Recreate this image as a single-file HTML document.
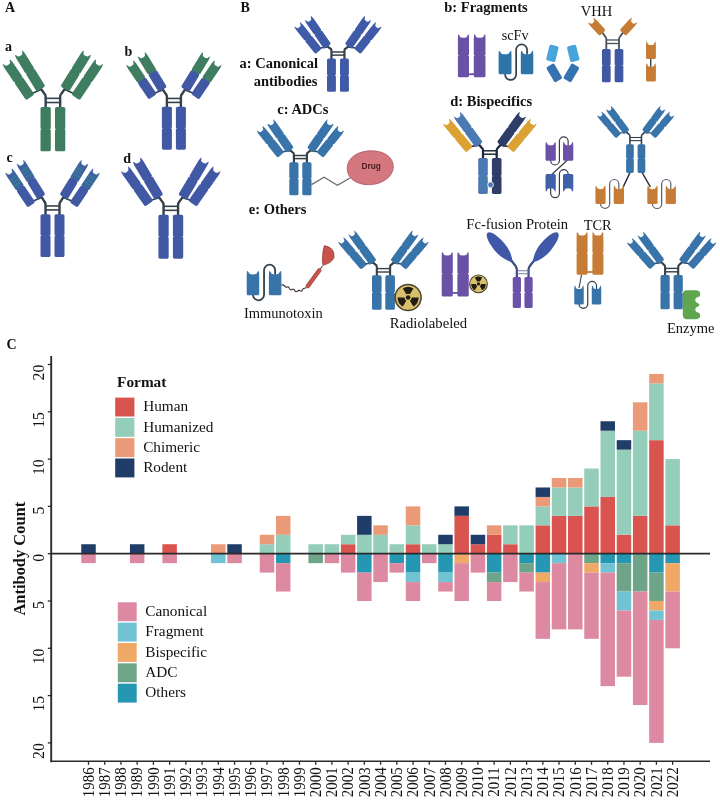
<!DOCTYPE html>
<html lang="en"><head><meta charset="utf-8"><title>Antibody formats</title>
<style>html,body{margin:0;padding:0;background:#fff}body{width:720px;height:800px;overflow:hidden}svg{display:block}text{font-kerning:normal}</style></head>
<body>
<svg width="720" height="800" viewBox="0 0 720 800">
<rect width="720" height="800" fill="#fff"/>
<text x="5" y="12.3" font-family="'Liberation Serif', serif" font-size="14" font-weight="bold" text-anchor="start" fill="#111">A</text>
<text x="5" y="51.2" font-family="'Liberation Serif', serif" font-size="14" font-weight="bold" text-anchor="start" fill="#111">a</text>
<text x="124.5" y="55.8" font-family="'Liberation Serif', serif" font-size="14" font-weight="bold" text-anchor="start" fill="#111">b</text>
<text x="6.5" y="162" font-family="'Liberation Serif', serif" font-size="14" font-weight="bold" text-anchor="start" fill="#111">c</text>
<text x="123.3" y="163.3" font-family="'Liberation Serif', serif" font-size="14" font-weight="bold" text-anchor="start" fill="#111">d</text>
<g><path d="M45.65 108 V96.49 Q45.65 94.99 44.29 93.54 L39.76 87.07" fill="none" stroke="#34404a" stroke-width="2.4" stroke-linecap="round" stroke-linejoin="round"/><path d="M30.31 94.34 L41.12 89.51" stroke="#34404a" stroke-width="1.68" fill="none"/><path d="M60.15 108 V96.49 Q60.15 94.99 61.51 93.54 L66.04 87.07" fill="none" stroke="#34404a" stroke-width="2.4" stroke-linecap="round" stroke-linejoin="round"/><path d="M75.49 94.34 L64.68 89.51" stroke="#34404a" stroke-width="1.68" fill="none"/><line x1="45.65" x2="60.15" y1="98.36" y2="98.36" stroke="#34404a" stroke-width="1.6"/><line x1="45.65" x2="60.15" y1="102.51" y2="102.51" stroke="#34404a" stroke-width="1.6"/><rect x="40.5" y="107" width="10.3" height="44.3" rx="1.6" fill="#3f7d61"/><path d="M40.2 128.15 L41.5 129.15 L40.2 130.15Z M51.1 128.15 L49.8 129.15 L51.1 130.15Z" fill="#fff"/><rect x="55" y="107" width="10.3" height="44.3" rx="1.6" fill="#3f7d61"/><path d="M54.7 128.15 L56 129.15 L54.7 130.15Z M65.6 128.15 L64.3 129.15 L65.6 130.15Z" fill="#fff"/><g transform="translate(41.12 89.01) rotate(-31.77)"><path d="M-3.25 0 H3.25 Q5.05 0 5.05 -1.8 V-39 L4.45 -42.9 L3.2 -41.3 A3.2 2.24 0 0 1 -3.2 -41.3 L-4.45 -42.9 L-5.05 -39 V-1.8 Q-5.05 0 -3.25 0Z" fill="#3f7d61"/><path d="M-5.35 -22 L-4.05 -21 L-5.35 -20Z M5.35 -22 L4.05 -21 L5.35 -20Z" fill="#fff"/></g><g transform="translate(64.68 89.01) rotate(31.77)"><path d="M-3.25 0 H3.25 Q5.05 0 5.05 -1.8 V-39 L4.45 -42.9 L3.2 -41.3 A3.2 2.24 0 0 1 -3.2 -41.3 L-4.45 -42.9 L-5.05 -39 V-1.8 Q-5.05 0 -3.25 0Z" fill="#3f7d61"/><path d="M-5.35 -22 L-4.05 -21 L-5.35 -20Z M5.35 -22 L4.05 -21 L5.35 -20Z" fill="#fff"/></g><g transform="translate(30.31 97.34) rotate(-34.03)"><path d="M-3.25 0 H3.25 Q5.05 0 5.05 -1.8 V-39.19 L4.45 -43.09 L3.2 -41.49 A3.2 2.24 0 0 1 -3.2 -41.49 L-4.45 -43.09 L-5.05 -39.19 V-1.8 Q-5.05 0 -3.25 0Z" fill="#3f7d61"/><path d="M-5.35 -22.09 L-4.05 -21.09 L-5.35 -20.09Z M5.35 -22.09 L4.05 -21.09 L5.35 -20.09Z" fill="#fff"/></g><g transform="translate(75.49 97.34) rotate(34.03)"><path d="M-3.25 0 H3.25 Q5.05 0 5.05 -1.8 V-39.19 L4.45 -43.09 L3.2 -41.49 A3.2 2.24 0 0 1 -3.2 -41.49 L-4.45 -43.09 L-5.05 -39.19 V-1.8 Q-5.05 0 -3.25 0Z" fill="#3f7d61"/><path d="M-5.35 -22.09 L-4.05 -21.09 L-5.35 -20.09Z M5.35 -22.09 L4.05 -21.09 L5.35 -20.09Z" fill="#fff"/></g></g>
<g><path d="M166.9 107.7 V96.7 Q166.9 95.2 165.67 93.84 L161.59 87.66" fill="none" stroke="#34404a" stroke-width="2.4" stroke-linecap="round" stroke-linejoin="round"/><path d="M152.81 93.74 L162.81 90.01" stroke="#34404a" stroke-width="1.68" fill="none"/><path d="M180.9 107.7 V96.7 Q180.9 95.2 182.13 93.84 L186.21 87.66" fill="none" stroke="#34404a" stroke-width="2.4" stroke-linecap="round" stroke-linejoin="round"/><path d="M194.99 93.74 L184.99 90.01" stroke="#34404a" stroke-width="1.68" fill="none"/><line x1="166.9" x2="180.9" y1="98.45" y2="98.45" stroke="#34404a" stroke-width="1.6"/><line x1="166.9" x2="180.9" y1="102.41" y2="102.41" stroke="#34404a" stroke-width="1.6"/><rect x="161.9" y="106.7" width="10" height="43" rx="1.6" fill="#4159a5"/><path d="M161.6 127.2 L162.9 128.2 L161.6 129.2Z M172.2 127.2 L170.9 128.2 L172.2 129.2Z" fill="#fff"/><rect x="175.9" y="106.7" width="10" height="43" rx="1.6" fill="#4159a5"/><path d="M175.6 127.2 L176.9 128.2 L175.6 129.2Z M186.2 127.2 L184.9 128.2 L186.2 129.2Z" fill="#fff"/><g transform="translate(162.81 89.51) rotate(-31.46)"><path transform="translate(0 -18.73)" d="M-3.1 0 H3.1 Q4.9 0 4.9 -1.8 V-18.73 L4.3 -22.63 L3.1 -21.03 A3.1 2.24 0 0 1 -3.1 -21.03 L-4.3 -22.63 L-4.9 -18.73 V-1.8 Q-4.9 0 -3.1 0Z" fill="#3f7d61"/><rect x="-4.9" y="-20.23" width="9.8" height="20.23" rx="1.8" fill="#4159a5"/><path d="M-5.2 -21.23 L-3.9 -20.23 L-5.2 -19.23Z M5.2 -21.23 L3.9 -20.23 L5.2 -19.23Z" fill="#fff"/></g><g transform="translate(184.99 89.51) rotate(31.46)"><path transform="translate(0 -18.73)" d="M-3.1 0 H3.1 Q4.9 0 4.9 -1.8 V-18.73 L4.3 -22.63 L3.1 -21.03 A3.1 2.24 0 0 1 -3.1 -21.03 L-4.3 -22.63 L-4.9 -18.73 V-1.8 Q-4.9 0 -3.1 0Z" fill="#3f7d61"/><rect x="-4.9" y="-20.23" width="9.8" height="20.23" rx="1.8" fill="#4159a5"/><path d="M-5.2 -21.23 L-3.9 -20.23 L-5.2 -19.23Z M5.2 -21.23 L3.9 -20.23 L5.2 -19.23Z" fill="#fff"/></g><g transform="translate(152.81 96.74) rotate(-34.19)"><path transform="translate(0 -18.66)" d="M-3.1 0 H3.1 Q4.9 0 4.9 -1.8 V-18.66 L4.3 -22.56 L3.1 -20.96 A3.1 2.24 0 0 1 -3.1 -20.96 L-4.3 -22.56 L-4.9 -18.66 V-1.8 Q-4.9 0 -3.1 0Z" fill="#3f7d61"/><rect x="-4.9" y="-20.16" width="9.8" height="20.16" rx="1.8" fill="#4159a5"/><path d="M-5.2 -21.16 L-3.9 -20.16 L-5.2 -19.16Z M5.2 -21.16 L3.9 -20.16 L5.2 -19.16Z" fill="#fff"/></g><g transform="translate(194.99 96.74) rotate(34.19)"><path transform="translate(0 -18.66)" d="M-3.1 0 H3.1 Q4.9 0 4.9 -1.8 V-18.66 L4.3 -22.56 L3.1 -20.96 A3.1 2.24 0 0 1 -3.1 -20.96 L-4.3 -22.56 L-4.9 -18.66 V-1.8 Q-4.9 0 -3.1 0Z" fill="#3f7d61"/><rect x="-4.9" y="-20.16" width="9.8" height="20.16" rx="1.8" fill="#4159a5"/><path d="M-5.2 -21.16 L-3.9 -20.16 L-5.2 -19.16Z M5.2 -21.16 L3.9 -20.16 L5.2 -19.16Z" fill="#fff"/></g></g>
<g><path d="M45.5 215.2 V204.2 Q45.5 202.7 44.3 201.34 L40.32 195.16" fill="none" stroke="#34404a" stroke-width="2.4" stroke-linecap="round" stroke-linejoin="round"/><path d="M31.51 201.84 L41.51 197.51" stroke="#34404a" stroke-width="1.68" fill="none"/><path d="M59.5 215.2 V204.2 Q59.5 202.7 60.7 201.34 L64.68 195.16" fill="none" stroke="#34404a" stroke-width="2.4" stroke-linecap="round" stroke-linejoin="round"/><path d="M73.49 201.84 L63.49 197.51" stroke="#34404a" stroke-width="1.68" fill="none"/><line x1="45.5" x2="59.5" y1="205.95" y2="205.95" stroke="#34404a" stroke-width="1.6"/><line x1="45.5" x2="59.5" y1="209.91" y2="209.91" stroke="#34404a" stroke-width="1.6"/><rect x="40.5" y="214.2" width="10" height="42.8" rx="1.6" fill="#4159a5"/><path d="M40.2 234.6 L41.5 235.6 L40.2 236.6Z M50.8 234.6 L49.5 235.6 L50.8 236.6Z" fill="#fff"/><rect x="54.5" y="214.2" width="10" height="42.8" rx="1.6" fill="#4159a5"/><path d="M54.2 234.6 L55.5 235.6 L54.2 236.6Z M64.8 234.6 L63.5 235.6 L64.8 236.6Z" fill="#fff"/><g transform="translate(41.51 197.01) rotate(-31.33)"><path transform="translate(0 -18.7)" d="M-2.85 0 H2.85 Q4.65 0 4.65 -1.8 V-18.7 L4.05 -22.6 L2.92 -21 A2.92 2.24 0 0 1 -2.92 -21 L-4.05 -22.6 L-4.65 -18.7 V-1.8 Q-4.65 0 -2.85 0Z" fill="#3d63a0"/><rect x="-4.65" y="-20.2" width="9.3" height="20.2" rx="1.8" fill="#4159a5"/><path d="M-4.95 -21.2 L-3.65 -20.2 L-4.95 -19.2Z M4.95 -21.2 L3.65 -20.2 L4.95 -19.2Z" fill="#fff"/><rect x="-4.05" y="-25.86" width="8.1" height="1.3" fill="#347f92"/><rect x="-4.05" y="-29.5" width="8.1" height="1.3" fill="#347f92"/><rect x="-4.05" y="-33.13" width="8.1" height="1.3" fill="#347f92"/></g><g transform="translate(63.49 197.01) rotate(31.33)"><path transform="translate(0 -18.7)" d="M-2.85 0 H2.85 Q4.65 0 4.65 -1.8 V-18.7 L4.05 -22.6 L2.92 -21 A2.92 2.24 0 0 1 -2.92 -21 L-4.05 -22.6 L-4.65 -18.7 V-1.8 Q-4.65 0 -2.85 0Z" fill="#3d63a0"/><rect x="-4.65" y="-20.2" width="9.3" height="20.2" rx="1.8" fill="#4159a5"/><path d="M-4.95 -21.2 L-3.65 -20.2 L-4.95 -19.2Z M4.95 -21.2 L3.65 -20.2 L4.95 -19.2Z" fill="#fff"/><rect x="-4.05" y="-25.86" width="8.1" height="1.3" fill="#347f92"/><rect x="-4.05" y="-29.5" width="8.1" height="1.3" fill="#347f92"/><rect x="-4.05" y="-33.13" width="8.1" height="1.3" fill="#347f92"/></g><g transform="translate(31.51 204.84) rotate(-33.91)"><path transform="translate(0 -18.72)" d="M-2.85 0 H2.85 Q4.65 0 4.65 -1.8 V-18.72 L4.05 -22.62 L2.92 -21.02 A2.92 2.24 0 0 1 -2.92 -21.02 L-4.05 -22.62 L-4.65 -18.72 V-1.8 Q-4.65 0 -2.85 0Z" fill="#3d63a0"/><rect x="-4.65" y="-20.22" width="9.3" height="20.22" rx="1.8" fill="#4159a5"/><path d="M-4.95 -21.22 L-3.65 -20.22 L-4.95 -19.22Z M4.95 -21.22 L3.65 -20.22 L4.95 -19.22Z" fill="#fff"/><rect x="-4.05" y="-25.88" width="8.1" height="1.3" fill="#347f92"/><rect x="-4.05" y="-29.52" width="8.1" height="1.3" fill="#347f92"/><rect x="-4.05" y="-33.16" width="8.1" height="1.3" fill="#347f92"/></g><g transform="translate(73.49 204.84) rotate(33.91)"><path transform="translate(0 -18.72)" d="M-2.85 0 H2.85 Q4.65 0 4.65 -1.8 V-18.72 L4.05 -22.62 L2.92 -21.02 A2.92 2.24 0 0 1 -2.92 -21.02 L-4.05 -22.62 L-4.65 -18.72 V-1.8 Q-4.65 0 -2.85 0Z" fill="#3d63a0"/><rect x="-4.65" y="-20.22" width="9.3" height="20.22" rx="1.8" fill="#4159a5"/><path d="M-4.95 -21.22 L-3.65 -20.22 L-4.95 -19.22Z M4.95 -21.22 L3.65 -20.22 L4.95 -19.22Z" fill="#fff"/><rect x="-4.05" y="-25.88" width="8.1" height="1.3" fill="#347f92"/><rect x="-4.05" y="-29.52" width="8.1" height="1.3" fill="#347f92"/><rect x="-4.05" y="-33.16" width="8.1" height="1.3" fill="#347f92"/></g></g>
<g><path d="M163.55 215.7 V204.51 Q163.55 203.01 162.19 201.62 L157.64 195.33" fill="none" stroke="#34404a" stroke-width="2.4" stroke-linecap="round" stroke-linejoin="round"/><path d="M149.22 200.74 L159.01 197.72" stroke="#34404a" stroke-width="1.68" fill="none"/><path d="M178.05 215.7 V204.51 Q178.05 203.01 179.41 201.62 L183.96 195.33" fill="none" stroke="#34404a" stroke-width="2.4" stroke-linecap="round" stroke-linejoin="round"/><path d="M192.38 200.74 L182.59 197.72" stroke="#34404a" stroke-width="1.68" fill="none"/><line x1="163.55" x2="178.05" y1="206.31" y2="206.31" stroke="#34404a" stroke-width="1.6"/><line x1="163.55" x2="178.05" y1="210.34" y2="210.34" stroke="#34404a" stroke-width="1.6"/><rect x="158.4" y="214.7" width="10.3" height="44" rx="1.6" fill="#4159a5"/><path d="M158.1 235.7 L159.4 236.7 L158.1 237.7Z M169 235.7 L167.7 236.7 L169 237.7Z" fill="#fff"/><rect x="172.9" y="214.7" width="10.3" height="44" rx="1.6" fill="#4159a5"/><path d="M172.6 235.7 L173.9 236.7 L172.6 237.7Z M183.5 235.7 L182.2 236.7 L183.5 237.7Z" fill="#fff"/><g transform="translate(159.01 197.22) rotate(-30.73)"><path d="M-3.25 0 H3.25 Q5.05 0 5.05 -1.8 V-40.06 L4.45 -43.96 L3.2 -42.36 A3.2 2.24 0 0 1 -3.2 -42.36 L-4.45 -43.96 L-5.05 -40.06 V-1.8 Q-5.05 0 -3.25 0Z" fill="#4159a5"/><path d="M-5.35 -22.53 L-4.05 -21.53 L-5.35 -20.53Z M5.35 -22.53 L4.05 -21.53 L5.35 -20.53Z" fill="#fff"/></g><g transform="translate(182.59 197.22) rotate(30.73)"><path d="M-3.25 0 H3.25 Q5.05 0 5.05 -1.8 V-40.06 L4.45 -43.96 L3.2 -42.36 A3.2 2.24 0 0 1 -3.2 -42.36 L-4.45 -43.96 L-5.05 -40.06 V-1.8 Q-5.05 0 -3.25 0Z" fill="#4159a5"/><path d="M-5.35 -22.53 L-4.05 -21.53 L-5.35 -20.53Z M5.35 -22.53 L4.05 -21.53 L5.35 -20.53Z" fill="#fff"/></g><g transform="translate(149.22 203.74) rotate(-35.2)"><path d="M-3.25 0 H3.25 Q5.05 0 5.05 -1.8 V-38.91 L4.45 -42.81 L3.2 -41.21 A3.2 2.24 0 0 1 -3.2 -41.21 L-4.45 -42.81 L-5.05 -38.91 V-1.8 Q-5.05 0 -3.25 0Z" fill="#4159a5"/><path d="M-5.35 -21.96 L-4.05 -20.96 L-5.35 -19.96Z M5.35 -21.96 L4.05 -20.96 L5.35 -19.96Z" fill="#fff"/></g><g transform="translate(192.38 203.74) rotate(35.2)"><path d="M-3.25 0 H3.25 Q5.05 0 5.05 -1.8 V-38.91 L4.45 -42.81 L3.2 -41.21 A3.2 2.24 0 0 1 -3.2 -41.21 L-4.45 -42.81 L-5.05 -38.91 V-1.8 Q-5.05 0 -3.25 0Z" fill="#4159a5"/><path d="M-5.35 -21.96 L-4.05 -20.96 L-5.35 -19.96Z M5.35 -21.96 L4.05 -20.96 L5.35 -19.96Z" fill="#fff"/></g></g>
<text x="240.5" y="12.3" font-family="'Liberation Serif', serif" font-size="14" font-weight="bold" text-anchor="start" fill="#111">B</text>
<text x="239.5" y="68.3" font-family="'Liberation Serif', serif" font-size="14.5" font-weight="bold" text-anchor="start" fill="#111">a: Canonical</text>
<text x="253.7" y="86.3" font-family="'Liberation Serif', serif" font-size="14.5" font-weight="bold" text-anchor="start" fill="#111">antibodies</text>
<g><path d="M331.45 59.5 V50.5 Q331.45 49 330.31 48.6 L326.5 45.59" fill="none" stroke="#34404a" stroke-width="2.2" stroke-linecap="round" stroke-linejoin="round"/><path d="M318.62 48.3 L327.64 46.99" stroke="#34404a" stroke-width="1.54" fill="none"/><path d="M344.45 59.5 V50.5 Q344.45 49 345.59 48.6 L349.4 45.59" fill="none" stroke="#34404a" stroke-width="2.2" stroke-linecap="round" stroke-linejoin="round"/><path d="M357.28 48.3 L348.26 46.99" stroke="#34404a" stroke-width="1.54" fill="none"/><line x1="331.45" x2="344.45" y1="52" y2="52" stroke="#34404a" stroke-width="1.5"/><line x1="331.45" x2="344.45" y1="55.1" y2="55.1" stroke="#34404a" stroke-width="1.5"/><rect x="327" y="58.5" width="8.9" height="33.3" rx="1.6" fill="#3f5ba8"/><path d="M326.7 74.15 L328 75.15 L326.7 76.15Z M336.2 74.15 L334.9 75.15 L336.2 76.15Z" fill="#fff"/><rect x="340" y="58.5" width="8.9" height="33.3" rx="1.6" fill="#3f5ba8"/><path d="M339.7 74.15 L341 75.15 L339.7 76.15Z M349.2 74.15 L347.9 75.15 L349.2 76.15Z" fill="#fff"/><g transform="translate(327.64 46.49) rotate(-34.74)"><path d="M-2.53 0 H2.53 Q4.33 0 4.33 -1.8 V-30.94 L3.73 -34.84 L2.68 -33.24 A2.68 2.24 0 0 1 -2.68 -33.24 L-3.73 -34.84 L-4.33 -30.94 V-1.8 Q-4.33 0 -2.53 0Z" fill="#3f5ba8"/><path d="M-4.63 -17.97 L-3.33 -16.97 L-4.63 -15.97Z M4.63 -17.97 L3.33 -16.97 L4.63 -15.97Z" fill="#fff"/></g><g transform="translate(348.26 46.49) rotate(34.74)"><path d="M-2.53 0 H2.53 Q4.33 0 4.33 -1.8 V-30.94 L3.73 -34.84 L2.68 -33.24 A2.68 2.24 0 0 1 -2.68 -33.24 L-3.73 -34.84 L-4.33 -30.94 V-1.8 Q-4.33 0 -2.53 0Z" fill="#3f5ba8"/><path d="M-4.63 -17.97 L-3.33 -16.97 L-4.63 -15.97Z M4.63 -17.97 L3.33 -16.97 L4.63 -15.97Z" fill="#fff"/></g><g transform="translate(318.62 51.3) rotate(-38.57)"><path d="M-2.53 0 H2.53 Q4.33 0 4.33 -1.8 V-30.6 L3.73 -34.5 L2.68 -32.9 A2.68 2.24 0 0 1 -2.68 -32.9 L-3.73 -34.5 L-4.33 -30.6 V-1.8 Q-4.33 0 -2.53 0Z" fill="#3f5ba8"/><path d="M-4.63 -17.8 L-3.33 -16.8 L-4.63 -15.8Z M4.63 -17.8 L3.33 -16.8 L4.63 -15.8Z" fill="#fff"/></g><g transform="translate(357.28 51.3) rotate(38.57)"><path d="M-2.53 0 H2.53 Q4.33 0 4.33 -1.8 V-30.6 L3.73 -34.5 L2.68 -32.9 A2.68 2.24 0 0 1 -2.68 -32.9 L-3.73 -34.5 L-4.33 -30.6 V-1.8 Q-4.33 0 -2.53 0Z" fill="#3f5ba8"/><path d="M-4.63 -17.8 L-3.33 -16.8 L-4.63 -15.8Z M4.63 -17.8 L3.33 -16.8 L4.63 -15.8Z" fill="#fff"/></g></g>
<text x="277.3" y="113.8" font-family="'Liberation Serif', serif" font-size="14.5" font-weight="bold" text-anchor="start" fill="#111">c: ADCs</text>
<g><path d="M293.9 163.3 V154.5 Q293.9 153 292.8 152.54 L289.14 149.33" fill="none" stroke="#34404a" stroke-width="2.2" stroke-linecap="round" stroke-linejoin="round"/><path d="M280.92 152 L290.24 150.79" stroke="#34404a" stroke-width="1.54" fill="none"/><path d="M306.9 163.3 V154.5 Q306.9 153 308 152.54 L311.66 149.33" fill="none" stroke="#34404a" stroke-width="2.2" stroke-linecap="round" stroke-linejoin="round"/><path d="M319.88 152 L310.56 150.79" stroke="#34404a" stroke-width="1.54" fill="none"/><line x1="293.9" x2="306.9" y1="155.5" y2="155.5" stroke="#34404a" stroke-width="1.5"/><line x1="293.9" x2="306.9" y1="158.6" y2="158.6" stroke="#34404a" stroke-width="1.5"/><rect x="289.3" y="162.3" width="9.2" height="33" rx="1.6" fill="#3873a9"/><path d="M289 177.8 L290.3 178.8 L289 179.8Z M298.8 177.8 L297.5 178.8 L298.8 179.8Z" fill="#fff"/><rect x="302.3" y="162.3" width="9.2" height="33" rx="1.6" fill="#3873a9"/><path d="M302 177.8 L303.3 178.8 L302 179.8Z M311.8 177.8 L310.5 178.8 L311.8 179.8Z" fill="#fff"/><g transform="translate(290.24 150.29) rotate(-34.68)"><path d="M-2.62 0 H2.62 Q4.42 0 4.42 -1.8 V-31.16 L3.82 -35.06 L2.75 -33.46 A2.75 2.24 0 0 1 -2.75 -33.46 L-3.82 -35.06 L-4.42 -31.16 V-1.8 Q-4.42 0 -2.62 0Z" fill="#3873a9"/><path d="M-4.72 -18.08 L-3.42 -17.08 L-4.72 -16.08Z M4.72 -18.08 L3.42 -17.08 L4.72 -16.08Z" fill="#fff"/></g><g transform="translate(310.56 150.29) rotate(34.68)"><path d="M-2.62 0 H2.62 Q4.42 0 4.42 -1.8 V-31.16 L3.82 -35.06 L2.75 -33.46 A2.75 2.24 0 0 1 -2.75 -33.46 L-3.82 -35.06 L-4.42 -31.16 V-1.8 Q-4.42 0 -2.62 0Z" fill="#3873a9"/><path d="M-4.72 -18.08 L-3.42 -17.08 L-4.72 -16.08Z M4.72 -18.08 L3.42 -17.08 L4.72 -16.08Z" fill="#fff"/></g><g transform="translate(280.92 155) rotate(-38.58)"><path d="M-2.62 0 H2.62 Q4.42 0 4.42 -1.8 V-30.35 L3.82 -34.25 L2.75 -32.65 A2.75 2.24 0 0 1 -2.75 -32.65 L-3.82 -34.25 L-4.42 -30.35 V-1.8 Q-4.42 0 -2.62 0Z" fill="#3873a9"/><path d="M-4.72 -17.68 L-3.42 -16.68 L-4.72 -15.68Z M4.72 -17.68 L3.42 -16.68 L4.72 -15.68Z" fill="#fff"/></g><g transform="translate(319.88 155) rotate(38.58)"><path d="M-2.62 0 H2.62 Q4.42 0 4.42 -1.8 V-30.35 L3.82 -34.25 L2.75 -32.65 A2.75 2.24 0 0 1 -2.75 -32.65 L-3.82 -34.25 L-4.42 -30.35 V-1.8 Q-4.42 0 -2.62 0Z" fill="#3873a9"/><path d="M-4.72 -17.68 L-3.42 -16.68 L-4.72 -15.68Z M4.72 -17.68 L3.42 -16.68 L4.72 -15.68Z" fill="#fff"/></g></g>
<path d="M311.5 184.6 L324.1 177.3 L337.4 185.3 L350.5 177.8" fill="none" stroke="#6a6a6a" stroke-width="1.25"/>
<path d="M347.2 168.5 C347.2 158 357.5 150.8 371.5 150.8 C384.5 150.8 393.3 157.5 393.3 166.5 C393.3 176.5 382.5 184.7 368.5 184.7 C356 184.7 347.2 178 347.2 168.5Z" fill="#d5777e" stroke="#a9565e" stroke-width="0.8"/>
<text x="371.2" y="169.3" font-family="'Liberation Sans', sans-serif" font-size="8.3" font-weight="bold" text-anchor="middle" fill="#4a2025">Drug</text>
<text x="444.3" y="11.8" font-family="'Liberation Serif', serif" font-size="14.5" font-weight="bold" text-anchor="start" fill="#111">b: Fragments</text>
<path transform="translate(463.45 77.2)" d="M-4.05 0 H4.05 Q5.55 0 5.55 -1.5 V-39.2 L5.25 -43.2 L3.78 -41.55 A3.78 2.08 0 0 1 -3.78 -41.55 L-5.25 -43.2 L-5.55 -39.2 V-1.5 Q-5.55 0 -4.05 0Z" fill="#6a51a6"/><path d="M457.6 54.47 L458.9 55.47 L457.6 56.47Z M469.3 54.47 L468 55.47 L469.3 56.47Z" fill="#fff"/><path transform="translate(479.65 77.2)" d="M-4.35 0 H4.35 Q5.85 0 5.85 -1.5 V-39.2 L5.55 -43.2 L4 -41.55 A4 2.08 0 0 1 -4 -41.55 L-5.55 -43.2 L-5.85 -39.2 V-1.5 Q-5.85 0 -4.35 0Z" fill="#6a51a6"/><path d="M473.5 54.47 L474.8 55.47 L473.5 56.47Z M485.8 54.47 L484.5 55.47 L485.8 56.47Z" fill="#fff"/><rect x="468" y="73.3" width="6.8" height="1.8" fill="#6a51a6"/>
<text x="501.7" y="39.6" font-family="'Liberation Serif', serif" font-size="14.2" text-anchor="start" fill="#111">scFv</text>
<path d="M505.05 71.3 V74.35 A5.55 5.55 0 0 0 516.15 74.35 V49.85 A5.45 5.45 0 0 1 527.05 49.85 V54.6" fill="none" stroke="#34404a" stroke-width="1.7"/><path transform="translate(505.05 74.3)" d="M-4.95 0 H4.95 Q6.45 0 6.45 -1.5 V-19.7 L6.15 -23.7 L4.43 -22.05 A4.43 2.08 0 0 1 -4.43 -22.05 L-6.15 -23.7 L-6.45 -19.7 V-1.5 Q-6.45 0 -4.95 0Z" fill="#2f74a8"/><path transform="translate(527.05 74.3)" d="M-4.75 0 H4.75 Q6.25 0 6.25 -1.5 V-19.7 L5.95 -23.7 L4.28 -22.05 A4.28 2.08 0 0 1 -4.28 -22.05 L-5.95 -23.7 L-6.25 -19.7 V-1.5 Q-6.25 0 -4.75 0Z" fill="#2f74a8"/>
<rect x="547.7" y="45.25" width="9.4" height="16.3" rx="1.8" fill="#47a4dc" transform="rotate(14 552.4 53.4)"/>
<rect x="568.5" y="45.25" width="9.4" height="16.3" rx="1.8" fill="#47a4dc" transform="rotate(-14 573.2 53.4)"/>
<rect x="549.8" y="64.1" width="9" height="17.6" rx="1.8" fill="#3572b0" transform="rotate(-30.5 554.3 72.9)"/>
<rect x="566.8" y="64.1" width="9" height="17.6" rx="1.8" fill="#3572b0" transform="rotate(30.5 571.3 72.9)"/>
<text x="580.7" y="16" font-family="'Liberation Serif', serif" font-size="14.5" text-anchor="start" fill="#111">VHH</text>
<g><path d="M606.3 50 V39.1 Q606.3 37.6 605.19 36.55 L601.5 31.39" fill="none" stroke="#4a5058" stroke-width="1.8" stroke-linecap="round" stroke-linejoin="round"/><path d="M619 50 V39.1 Q619 37.6 620.11 36.55 L623.8 31.39" fill="none" stroke="#4a5058" stroke-width="1.8" stroke-linecap="round" stroke-linejoin="round"/><line x1="606.3" x2="619" y1="40" y2="40" stroke="#4a5058" stroke-width="1.3"/><line x1="606.3" x2="619" y1="43.5" y2="43.5" stroke="#4a5058" stroke-width="1.3"/><rect x="601.95" y="49" width="8.7" height="33.25" rx="1.6" fill="#4159a5"/><path d="M601.65 64.62 L602.95 65.62 L601.65 66.62Z M610.95 64.62 L609.65 65.62 L610.95 66.62Z" fill="#fff"/><rect x="614.65" y="49" width="8.7" height="33.25" rx="1.6" fill="#4159a5"/><path d="M614.35 64.62 L615.65 65.62 L614.35 66.62Z M623.65 64.62 L622.35 65.62 L623.65 66.62Z" fill="#fff"/><g transform="translate(602.61 32.94) rotate(-42.62)"><path d="M-2.5 0 H2.5 Q4.3 0 4.3 -1.8 V-13.77 L3.7 -17.67 L2.66 -16.07 A2.66 2.24 0 0 1 -2.66 -16.07 L-3.7 -17.67 L-4.3 -13.77 V-1.8 Q-4.3 0 -2.5 0Z" fill="#c67c36"/></g><g transform="translate(622.69 32.94) rotate(42.62)"><path d="M-2.5 0 H2.5 Q4.3 0 4.3 -1.8 V-13.77 L3.7 -17.67 L2.66 -16.07 A2.66 2.24 0 0 1 -2.66 -16.07 L-3.7 -17.67 L-4.3 -13.77 V-1.8 Q-4.3 0 -2.5 0Z" fill="#c67c36"/></g></g>
<line x1="650.7" x2="650.7" y1="57" y2="67" stroke="#34404a" stroke-width="1.4"/>
<path transform="translate(650.95 59)" d="M-3.45 0 H3.45 Q4.95 0 4.95 -1.5 V-13.7 L4.65 -17.7 L3.35 -16.05 A3.35 2.08 0 0 1 -3.35 -16.05 L-4.65 -17.7 L-4.95 -13.7 V-1.5 Q-4.95 0 -3.45 0Z" fill="#c67c36"/>
<path transform="translate(650.95 81.5)" d="M-3.45 0 H3.45 Q4.95 0 4.95 -1.5 V-14.3 L4.65 -18.3 L3.35 -16.65 A3.35 2.08 0 0 1 -3.35 -16.65 L-4.65 -18.3 L-4.95 -14.3 V-1.5 Q-4.95 0 -3.45 0Z" fill="#c67c36"/>
<text x="450.3" y="106" font-family="'Liberation Serif', serif" font-size="14.5" font-weight="bold" text-anchor="start" fill="#111">d: Bispecifics</text>
<g><path d="M483 159 V150.3 Q483 148.8 481.86 147.95 L478.06 143.43" fill="none" stroke="#1f2a3c" stroke-width="2.3" stroke-linecap="round" stroke-linejoin="round"/><path d="M469.52 146.59 L479.2 145.28" stroke="#1f2a3c" stroke-width="1.61" fill="none"/><path d="M496.7 159 V150.3 Q496.7 148.8 497.84 147.95 L501.64 143.43" fill="none" stroke="#1f2a3c" stroke-width="2.3" stroke-linecap="round" stroke-linejoin="round"/><path d="M510.18 146.59 L500.5 145.28" stroke="#1f2a3c" stroke-width="1.61" fill="none"/><line x1="483" x2="496.7" y1="150.8" y2="150.8" stroke="#1f2a3c" stroke-width="1.5"/><line x1="483" x2="496.7" y1="154.2" y2="154.2" stroke="#1f2a3c" stroke-width="1.5"/><rect x="478.2" y="158" width="9.6" height="35.9" rx="1.6" fill="#4b79b1"/><path d="M477.9 174.95 L479.2 175.95 L477.9 176.95Z M488.1 174.95 L486.8 175.95 L488.1 176.95Z" fill="#fff"/><rect x="491.9" y="158" width="9.6" height="35.9" rx="1.6" fill="#2f3e68"/><path d="M491.6 174.95 L492.9 175.95 L491.6 176.95Z M501.8 174.95 L500.5 175.95 L501.8 176.95Z" fill="#fff"/><g transform="translate(479.2 144.78) rotate(-36.11)"><path d="M-2.78 0 H2.78 Q4.58 0 4.58 -1.8 V-33.99 L3.98 -37.89 L2.86 -36.29 A2.86 2.24 0 0 1 -2.86 -36.29 L-3.98 -37.89 L-4.58 -33.99 V-1.8 Q-4.58 0 -2.78 0Z" fill="#4b79b1"/><path d="M-4.88 -19.5 L-3.58 -18.5 L-4.88 -17.5Z M4.88 -19.5 L3.58 -18.5 L4.88 -17.5Z" fill="#fff"/></g><g transform="translate(500.5 144.78) rotate(36.11)"><path d="M-2.78 0 H2.78 Q4.58 0 4.58 -1.8 V-33.99 L3.98 -37.89 L2.86 -36.29 A2.86 2.24 0 0 1 -2.86 -36.29 L-3.98 -37.89 L-4.58 -33.99 V-1.8 Q-4.58 0 -2.78 0Z" fill="#2f3e68"/><path d="M-4.88 -19.5 L-3.58 -18.5 L-4.88 -17.5Z M4.88 -19.5 L3.58 -18.5 L4.88 -17.5Z" fill="#fff"/></g><g transform="translate(469.52 149.59) rotate(-39.63)"><path d="M-2.78 0 H2.78 Q4.58 0 4.58 -1.8 V-33.07 L3.98 -36.97 L2.86 -35.37 A2.86 2.24 0 0 1 -2.86 -35.37 L-3.98 -36.97 L-4.58 -33.07 V-1.8 Q-4.58 0 -2.78 0Z" fill="#dba233"/><path d="M-4.88 -19.04 L-3.58 -18.04 L-4.88 -17.04Z M4.88 -19.04 L3.58 -18.04 L4.88 -17.04Z" fill="#fff"/></g><g transform="translate(510.18 149.59) rotate(39.63)"><path d="M-2.78 0 H2.78 Q4.58 0 4.58 -1.8 V-33.07 L3.98 -36.97 L2.86 -35.37 A2.86 2.24 0 0 1 -2.86 -35.37 L-3.98 -36.97 L-4.58 -33.07 V-1.8 Q-4.58 0 -2.78 0Z" fill="#dba233"/><path d="M-4.88 -19.04 L-3.58 -18.04 L-4.88 -17.04Z M4.88 -19.04 L3.58 -18.04 L4.88 -17.04Z" fill="#fff"/></g><circle cx="490.6" cy="184.8" r="2.9" fill="#4b79b1" stroke="#dfe6f2" stroke-width="0.9"/></g>
<path d="M567.5 160 L551.7 174.5" fill="none" stroke="#3a3c48" stroke-width="1.2"/>
<path d="M550.65 157.7 V160.72 A4.38 4.38 0 0 0 559.4 160.72 V141.07 A4.38 4.38 0 0 1 568.15 141.07 V145.7" fill="none" stroke="#3a3c48" stroke-width="1.2"/><path transform="translate(550.65 160.7)" d="M-3.65 0 H3.65 Q5.15 0 5.15 -1.5 V-15 L4.85 -19 L3.49 -17.35 A3.49 2.08 0 0 1 -3.49 -17.35 L-4.85 -19 L-5.15 -15 V-1.5 Q-5.15 0 -3.65 0Z" fill="#6a51a6"/><path transform="translate(568.15 160.7)" d="M-3.65 0 H3.65 Q5.15 0 5.15 -1.5 V-15 L4.85 -19 L3.49 -17.35 A3.49 2.08 0 0 1 -3.49 -17.35 L-4.85 -19 L-5.15 -15 V-1.5 Q-5.15 0 -3.65 0Z" fill="#6a51a6"/>
<path d="M550.65 187.9 V193.53 A4.38 4.38 0 0 0 559.4 193.53 V173.78 A4.38 4.38 0 0 1 568.15 173.78 V177" fill="none" stroke="#3a3c48" stroke-width="1.2"/><path transform="translate(550.65 174) scale(1 -1)" d="M-3.65 0 H3.65 Q5.15 0 5.15 -1.5 V-13.9 L4.85 -17.9 L3.49 -16.25 A3.49 2.08 0 0 1 -3.49 -16.25 L-4.85 -17.9 L-5.15 -13.9 V-1.5 Q-5.15 0 -3.65 0Z" fill="#3f61a9"/><path transform="translate(568.15 174) scale(1 -1)" d="M-3.65 0 H3.65 Q5.15 0 5.15 -1.5 V-13.9 L4.85 -17.9 L3.49 -16.25 A3.49 2.08 0 0 1 -3.49 -16.25 L-4.85 -17.9 L-5.15 -13.9 V-1.5 Q-5.15 0 -3.65 0Z" fill="#3f61a9"/>
<path d="M630.2 172 L623.2 187 M641.8 172 L650.4 187" stroke="#1f2c3c" stroke-width="1.5" fill="none"/>
<g><path d="M629.95 145.2 V136.4 Q629.95 134.9 628.96 134.4 L625.67 131.09" fill="none" stroke="#34404a" stroke-width="1.6" stroke-linecap="round" stroke-linejoin="round"/><path d="M618.62 132.98 L626.66 132.58" stroke="#34404a" stroke-width="1.12" fill="none"/><path d="M641.45 145.2 V136.4 Q641.45 134.9 642.44 134.4 L645.73 131.09" fill="none" stroke="#34404a" stroke-width="1.6" stroke-linecap="round" stroke-linejoin="round"/><path d="M652.78 132.98 L644.74 132.58" stroke="#34404a" stroke-width="1.12" fill="none"/><line x1="629.95" x2="641.45" y1="137.5" y2="137.5" stroke="#34404a" stroke-width="1.1"/><line x1="629.95" x2="641.45" y1="140.6" y2="140.6" stroke="#34404a" stroke-width="1.1"/><rect x="626.1" y="144.2" width="7.7" height="28.7" rx="1.6" fill="#3873a9"/><path d="M625.8 157.55 L627.1 158.55 L625.8 159.55Z M634.1 157.55 L632.8 158.55 L634.1 159.55Z" fill="#fff"/><rect x="637.6" y="144.2" width="7.7" height="28.7" rx="1.6" fill="#3873a9"/><path d="M637.3 157.55 L638.6 158.55 L637.3 159.55Z M645.6 157.55 L644.3 158.55 L645.6 159.55Z" fill="#fff"/><g transform="translate(626.66 132.08) rotate(-36.59)"><path d="M-1.84 0 H1.84 Q3.64 0 3.64 -1.8 V-26.62 L3.04 -30.52 L2.19 -29.05 A2.19 1.84 0 0 1 -2.19 -29.05 L-3.04 -30.52 L-3.64 -26.62 V-1.8 Q-3.64 0 -1.84 0Z" fill="#3873a9"/><path d="M-3.94 -15.81 L-2.64 -14.81 L-3.94 -13.81Z M3.94 -15.81 L2.64 -14.81 L3.94 -13.81Z" fill="#fff"/></g><g transform="translate(644.74 132.08) rotate(36.59)"><path d="M-1.84 0 H1.84 Q3.64 0 3.64 -1.8 V-26.62 L3.04 -30.52 L2.19 -29.05 A2.19 1.84 0 0 1 -2.19 -29.05 L-3.04 -30.52 L-3.64 -26.62 V-1.8 Q-3.64 0 -1.84 0Z" fill="#3873a9"/><path d="M-3.94 -15.81 L-2.64 -14.81 L-3.94 -13.81Z M3.94 -15.81 L2.64 -14.81 L3.94 -13.81Z" fill="#fff"/></g><g transform="translate(618.62 135.98) rotate(-40.83)"><path d="M-1.84 0 H1.84 Q3.64 0 3.64 -1.8 V-25.78 L3.04 -29.68 L2.19 -28.21 A2.19 1.84 0 0 1 -2.19 -28.21 L-3.04 -29.68 L-3.64 -25.78 V-1.8 Q-3.64 0 -1.84 0Z" fill="#3873a9"/><path d="M-3.94 -15.39 L-2.64 -14.39 L-3.94 -13.39Z M3.94 -15.39 L2.64 -14.39 L3.94 -13.39Z" fill="#fff"/></g><g transform="translate(652.78 135.98) rotate(40.83)"><path d="M-1.84 0 H1.84 Q3.64 0 3.64 -1.8 V-25.78 L3.04 -29.68 L2.19 -28.21 A2.19 1.84 0 0 1 -2.19 -28.21 L-3.04 -29.68 L-3.64 -25.78 V-1.8 Q-3.64 0 -1.84 0Z" fill="#3873a9"/><path d="M-3.94 -15.39 L-2.64 -14.39 L-3.94 -13.39Z M3.94 -15.39 L2.64 -14.39 L3.94 -13.39Z" fill="#fff"/></g></g>
<path d="M600.5 201 V203.92 A4.58 4.58 0 0 0 609.65 203.92 V184.1 A4.6 4.6 0 0 1 618.85 184.1 V189.4" fill="none" stroke="#565e6c" stroke-width="1.2"/><path transform="translate(600.5 204)" d="M-3.6 0 H3.6 Q5.1 0 5.1 -1.5 V-14.6 L4.8 -18.6 L3.46 -16.95 A3.46 2.08 0 0 1 -3.46 -16.95 L-4.8 -18.6 L-5.1 -14.6 V-1.5 Q-5.1 0 -3.6 0Z" fill="#c67c36"/><path transform="translate(618.85 204)" d="M-3.65 0 H3.65 Q5.15 0 5.15 -1.5 V-14.6 L4.85 -18.6 L3.49 -16.95 A3.49 2.08 0 0 1 -3.49 -16.95 L-4.85 -18.6 L-5.15 -14.6 V-1.5 Q-5.15 0 -3.65 0Z" fill="#c67c36"/>
<path d="M652.45 201 V203.9 A4.6 4.6 0 0 0 661.65 203.9 V184.07 A4.57 4.57 0 0 1 670.8 184.07 V189.4" fill="none" stroke="#565e6c" stroke-width="1.2"/><path transform="translate(652.45 204)" d="M-3.65 0 H3.65 Q5.15 0 5.15 -1.5 V-14.6 L4.85 -18.6 L3.49 -16.95 A3.49 2.08 0 0 1 -3.49 -16.95 L-4.85 -18.6 L-5.15 -14.6 V-1.5 Q-5.15 0 -3.65 0Z" fill="#c67c36"/><path transform="translate(670.8 204)" d="M-3.6 0 H3.6 Q5.1 0 5.1 -1.5 V-14.6 L4.8 -18.6 L3.46 -16.95 A3.46 2.08 0 0 1 -3.46 -16.95 L-4.8 -18.6 L-5.1 -14.6 V-1.5 Q-5.1 0 -3.6 0Z" fill="#c67c36"/>
<text x="248.8" y="214.4" font-family="'Liberation Serif', serif" font-size="14.5" font-weight="bold" text-anchor="start" fill="#111">e: Others</text>
<path d="M252.95 292.3 V294.75 A5.55 5.55 0 0 0 264.05 294.75 V270.25 A5.55 5.55 0 0 1 275.15 270.25 V274.7" fill="none" stroke="#34404a" stroke-width="1.8"/><path transform="translate(252.95 295.3)" d="M-4.75 0 H4.75 Q6.25 0 6.25 -1.5 V-20.6 L5.95 -24.6 L4.28 -22.95 A4.28 2.08 0 0 1 -4.28 -22.95 L-5.95 -24.6 L-6.25 -20.6 V-1.5 Q-6.25 0 -4.75 0Z" fill="#3873a9"/><path transform="translate(275.15 295.3)" d="M-4.75 0 H4.75 Q6.25 0 6.25 -1.5 V-20.6 L5.95 -24.6 L4.28 -22.95 A4.28 2.08 0 0 1 -4.28 -22.95 L-5.95 -24.6 L-6.25 -20.6 V-1.5 Q-6.25 0 -4.75 0Z" fill="#3873a9"/>
<path d="M281.5 285.3 q1.5 -1.2 3 0.6 q1.2 1.8 2.6 1.2 q1.4 -0.8 2.4 1.4 q1 2 2.6 1 q1.6 -1 2.6 1 q1.2 2 2.8 0.6 q1.4 -1.4 2.6 -0.2 q1.6 1 2.4 -1.2 q0.6 -1.6 2.4 -1.4 q1.2 0 1.6 -1.6" fill="none" stroke="#3a2c2c" stroke-width="1.1"/>
<g transform="translate(313.6 278.2) rotate(36)"><rect x="-1.9" y="-11.5" width="3.8" height="23" rx="1.9" fill="#c9524b" stroke="#7c2f2a" stroke-width="0.5"/></g>
<path d="M320.3 269 L322.6 265.6" stroke="#5a2a2a" stroke-width="1" fill="none"/>
<path d="M324.4 245.6 Q335.2 247.6 334 257.5 Q331.5 263.5 323 265.2 Q321.8 262 322.6 255 Q323 249 324.4 245.6Z" fill="#c9524b" stroke="#7c2f2a" stroke-width="0.6"/>
<text x="243.9" y="318" font-family="'Liberation Serif', serif" font-size="14.5" text-anchor="start" fill="#111">Immunotoxin</text>
<g><path d="M376.8 276.3 V266.8 Q376.8 265.3 375.71 264.84 L372.06 261.62" fill="none" stroke="#34404a" stroke-width="2.1" stroke-linecap="round" stroke-linejoin="round"/><path d="M364.12 263.99 L373.15 263.09" stroke="#34404a" stroke-width="1.47" fill="none"/><path d="M390.1 276.3 V266.8 Q390.1 265.3 391.19 264.84 L394.84 261.62" fill="none" stroke="#34404a" stroke-width="2.1" stroke-linecap="round" stroke-linejoin="round"/><path d="M402.78 263.99 L393.75 263.09" stroke="#34404a" stroke-width="1.47" fill="none"/><line x1="376.8" x2="390.1" y1="268.6" y2="268.6" stroke="#34404a" stroke-width="1.4"/><line x1="376.8" x2="390.1" y1="272" y2="272" stroke="#34404a" stroke-width="1.4"/><rect x="372" y="275.3" width="9.6" height="34.5" rx="1.6" fill="#3873a9"/><path d="M371.7 291.55 L373 292.55 L371.7 293.55Z M381.9 291.55 L380.6 292.55 L381.9 293.55Z" fill="#fff"/><rect x="385.3" y="275.3" width="9.6" height="34.5" rx="1.6" fill="#3873a9"/><path d="M385 291.55 L386.3 292.55 L385 293.55Z M395.2 291.55 L393.9 292.55 L395.2 293.55Z" fill="#fff"/><g transform="translate(373.15 262.59) rotate(-35.87)"><path d="M-2.4 0 H2.4 Q4.2 0 4.2 -1.8 V-33.27 L3.6 -37.17 L2.59 -35.57 A2.59 2.24 0 0 1 -2.59 -35.57 L-3.6 -37.17 L-4.2 -33.27 V-1.8 Q-4.2 0 -2.4 0Z" fill="#3873a9"/><path d="M-4.5 -19.13 L-3.2 -18.13 L-4.5 -17.13Z M4.5 -19.13 L3.2 -18.13 L4.5 -17.13Z" fill="#fff"/></g><g transform="translate(393.75 262.59) rotate(35.87)"><path d="M-2.4 0 H2.4 Q4.2 0 4.2 -1.8 V-33.27 L3.6 -37.17 L2.59 -35.57 A2.59 2.24 0 0 1 -2.59 -35.57 L-3.6 -37.17 L-4.2 -33.27 V-1.8 Q-4.2 0 -2.4 0Z" fill="#3873a9"/><path d="M-4.5 -19.13 L-3.2 -18.13 L-4.5 -17.13Z M4.5 -19.13 L3.2 -18.13 L4.5 -17.13Z" fill="#fff"/></g><g transform="translate(364.12 266.99) rotate(-40.54)"><path d="M-2.4 0 H2.4 Q4.2 0 4.2 -1.8 V-32.1 L3.6 -36 L2.59 -34.4 A2.59 2.24 0 0 1 -2.59 -34.4 L-3.6 -36 L-4.2 -32.1 V-1.8 Q-4.2 0 -2.4 0Z" fill="#3873a9"/><path d="M-4.5 -18.55 L-3.2 -17.55 L-4.5 -16.55Z M4.5 -18.55 L3.2 -17.55 L4.5 -16.55Z" fill="#fff"/></g><g transform="translate(402.78 266.99) rotate(40.54)"><path d="M-2.4 0 H2.4 Q4.2 0 4.2 -1.8 V-32.1 L3.6 -36 L2.59 -34.4 A2.59 2.24 0 0 1 -2.59 -34.4 L-3.6 -36 L-4.2 -32.1 V-1.8 Q-4.2 0 -2.4 0Z" fill="#3873a9"/><path d="M-4.5 -18.55 L-3.2 -17.55 L-4.5 -16.55Z M4.5 -18.55 L3.2 -17.55 L4.5 -16.55Z" fill="#fff"/></g></g>
<circle cx="408.1" cy="297.5" r="13" fill="#d9bf6c" stroke="#4a452f" stroke-width="1.49"/><path d="M406.28 294.34 L402.84 288.38 A10.53 10.53 0 0 1 413.37 288.38 L409.92 294.34 A3.65 3.65 0 0 0 406.28 294.34Z" fill="#211d14"/><path d="M411.75 297.5 L418.63 297.5 A10.53 10.53 0 0 1 413.37 306.62 L409.92 300.66 A3.65 3.65 0 0 0 411.75 297.5Z" fill="#211d14"/><path d="M406.28 300.66 L402.84 306.62 A10.53 10.53 0 0 1 397.57 297.5 L404.46 297.5 A3.65 3.65 0 0 0 406.28 300.66Z" fill="#211d14"/><circle cx="408.1" cy="297.5" r="2.3" fill="#211d14"/>
<text x="389.7" y="327.8" font-family="'Liberation Serif', serif" font-size="14.7" text-anchor="start" fill="#111">Radiolabeled</text>
<path transform="translate(447.25 296.4)" d="M-4.05 0 H4.05 Q5.55 0 5.55 -1.5 V-40.6 L5.25 -44.6 L3.78 -42.95 A3.78 2.08 0 0 1 -3.78 -42.95 L-5.25 -44.6 L-5.55 -40.6 V-1.5 Q-5.55 0 -4.05 0Z" fill="#6a51a6"/><path d="M441.4 272.73 L442.7 273.73 L441.4 274.73Z M453.1 272.73 L451.8 273.73 L453.1 274.73Z" fill="#fff"/><path transform="translate(463.07 296.4)" d="M-4.18 0 H4.18 Q5.68 0 5.68 -1.5 V-40.6 L5.38 -44.6 L3.87 -42.95 A3.87 2.08 0 0 1 -3.87 -42.95 L-5.38 -44.6 L-5.68 -40.6 V-1.5 Q-5.68 0 -4.18 0Z" fill="#6a51a6"/><path d="M457.1 272.73 L458.4 273.73 L457.1 274.73Z M469.05 272.73 L467.75 273.73 L469.05 274.73Z" fill="#fff"/><rect x="451.8" y="292" width="6.6" height="1.8" fill="#6a51a6"/>
<circle cx="478.5" cy="283.9" r="8.9" fill="#d9bf6c" stroke="#4a452f" stroke-width="1.03"/><path d="M477.23 281.7 L474.83 277.55 A7.33 7.33 0 0 1 482.17 277.55 L479.77 281.7 A2.54 2.54 0 0 0 477.23 281.7Z" fill="#211d14"/><path d="M481.04 283.9 L485.83 283.9 A7.33 7.33 0 0 1 482.17 290.25 L479.77 286.1 A2.54 2.54 0 0 0 481.04 283.9Z" fill="#211d14"/><path d="M477.23 286.1 L474.83 290.25 A7.33 7.33 0 0 1 471.17 283.9 L475.96 283.9 A2.54 2.54 0 0 0 477.23 286.1Z" fill="#211d14"/><circle cx="478.5" cy="283.9" r="1.6" fill="#211d14"/>
<text x="466.3" y="228.5" font-family="'Liberation Serif', serif" font-size="14.6" text-anchor="start" fill="#111">Fc-fusion Protein</text>
<path d="M516.85 278 V269.5 Q516.85 267.5 515.2 265.5 L510.5 259.5 M528.55 278 V269.5 Q528.55 267.5 530.2 265.5 L534.9 259.5" fill="none" stroke="#3f4f86" stroke-width="2.3"/>
<path d="M516.85 270.8 H528.55 M516.85 273.8 H528.55" stroke="#6f7fa8" stroke-width="1.1"/>
<rect x="512.75" y="276.9" width="8.2" height="31" rx="1.5" fill="#6a51a9"/>
<path d="M512.45 291.4 L513.75 292.4 L512.45 293.4Z M521.25 291.4 L519.95 292.4 L521.25 293.4Z" fill="#fff"/>
<rect x="524.45" y="276.9" width="8.2" height="31" rx="1.5" fill="#6a51a9"/>
<path d="M524.15 291.4 L525.45 292.4 L524.15 293.4Z M532.95 291.4 L531.65 292.4 L532.95 293.4Z" fill="#fff"/>
<g transform="translate(499.9 247.3) rotate(-40.2)"><path d="M0 19.6 C-3.4 15 -6 8 -6 0 C-6 -11 -3.4 -19.1 0 -19.1 C3.4 -19.1 6 -11 6 0 C6 8 3.4 15 0 19.6Z" fill="#3f59a8"/></g>
<g transform="translate(545.5 247.3) rotate(40.2)"><path d="M0 19.6 C-3.4 15 -6 8 -6 0 C-6 -11 -3.4 -19.1 0 -19.1 C3.4 -19.1 6 -11 6 0 C6 8 3.4 15 0 19.6Z" fill="#3f59a8"/></g>
<text x="583.7" y="230" font-family="'Liberation Serif', serif" font-size="14.4" text-anchor="start" fill="#111">TCR</text>
<path transform="translate(582.1 274.8)" d="M-4 0 H4 Q5.5 0 5.5 -1.5 V-39 L5.2 -43 L3.74 -41.35 A3.74 2.08 0 0 1 -3.74 -41.35 L-5.2 -43 L-5.5 -39 V-1.5 Q-5.5 0 -4 0Z" fill="#c67c36"/><path d="M576.3 252.17 L577.6 253.17 L576.3 254.17Z M587.9 252.17 L586.6 253.17 L587.9 254.17Z" fill="#fff"/><path transform="translate(597.9 274.8)" d="M-4 0 H4 Q5.5 0 5.5 -1.5 V-39 L5.2 -43 L3.74 -41.35 A3.74 2.08 0 0 1 -3.74 -41.35 L-5.2 -43 L-5.5 -39 V-1.5 Q-5.5 0 -4 0Z" fill="#c67c36"/><path d="M592.1 252.17 L593.4 253.17 L592.1 254.17Z M603.7 252.17 L602.4 253.17 L603.7 254.17Z" fill="#fff"/><rect x="586.6" y="271.1" width="6.8" height="1.8" fill="#c67c36"/>
<path d="M581.5 275 L579 288" stroke="#34404a" stroke-width="1.1"/>
<path d="M579 301.5 V304.12 A4.38 4.38 0 0 0 587.75 304.12 V285.62 A4.38 4.38 0 0 1 596.5 285.62 V289.25" fill="none" stroke="#34404a" stroke-width="1.2"/><path transform="translate(579 304.5)" d="M-3.25 0 H3.25 Q4.75 0 4.75 -1.5 V-15.25 L4.45 -19.25 L3.2 -17.6 A3.2 2.08 0 0 1 -3.2 -17.6 L-4.45 -19.25 L-4.75 -15.25 V-1.5 Q-4.75 0 -3.25 0Z" fill="#3873a9"/><path transform="translate(596.5 304.5)" d="M-3.25 0 H3.25 Q4.75 0 4.75 -1.5 V-15.25 L4.45 -19.25 L3.2 -17.6 A3.2 2.08 0 0 1 -3.2 -17.6 L-4.45 -19.25 L-4.75 -15.25 V-1.5 Q-4.75 0 -3.25 0Z" fill="#3873a9"/>
<g><path d="M665.1 276.1 V266.9 Q665.1 265.4 663.95 264.76 L660.1 260.94" fill="none" stroke="#34404a" stroke-width="2.1" stroke-linecap="round" stroke-linejoin="round"/><path d="M652.83 263.68 L661.26 262.58" stroke="#34404a" stroke-width="1.47" fill="none"/><path d="M678.2 276.1 V266.9 Q678.2 265.4 679.35 264.76 L683.2 260.94" fill="none" stroke="#34404a" stroke-width="2.1" stroke-linecap="round" stroke-linejoin="round"/><path d="M690.47 263.68 L682.04 262.58" stroke="#34404a" stroke-width="1.47" fill="none"/><line x1="665.1" x2="678.2" y1="268.4" y2="268.4" stroke="#34404a" stroke-width="1.4"/><line x1="665.1" x2="678.2" y1="271.8" y2="271.8" stroke="#34404a" stroke-width="1.4"/><rect x="660.5" y="275.1" width="9.2" height="34.15" rx="1.6" fill="#3873a9"/><path d="M660.2 291.18 L661.5 292.18 L660.2 293.18Z M670 291.18 L668.7 292.18 L670 293.18Z" fill="#fff"/><rect x="673.6" y="275.1" width="9.2" height="34.15" rx="1.6" fill="#3873a9"/><path d="M673.3 291.18 L674.6 292.18 L673.3 293.18Z M683.1 291.18 L681.8 292.18 L683.1 293.18Z" fill="#fff"/><g transform="translate(661.26 262.08) rotate(-36.33)"><path d="M-2.21 0 H2.21 Q4.01 0 4.01 -1.8 V-31.61 L3.41 -35.51 L2.45 -33.91 A2.45 2.24 0 0 1 -2.45 -33.91 L-3.41 -35.51 L-4.01 -31.61 V-1.8 Q-4.01 0 -2.21 0Z" fill="#3873a9"/><path d="M-4.31 -18.31 L-3.01 -17.31 L-4.31 -16.31Z M4.31 -18.31 L3.01 -17.31 L4.31 -16.31Z" fill="#fff"/></g><g transform="translate(682.04 262.08) rotate(36.33)"><path d="M-2.21 0 H2.21 Q4.01 0 4.01 -1.8 V-31.61 L3.41 -35.51 L2.45 -33.91 A2.45 2.24 0 0 1 -2.45 -33.91 L-3.41 -35.51 L-4.01 -31.61 V-1.8 Q-4.01 0 -2.21 0Z" fill="#3873a9"/><path d="M-4.31 -18.31 L-3.01 -17.31 L-4.31 -16.31Z M4.31 -18.31 L3.01 -17.31 L4.31 -16.31Z" fill="#fff"/></g><g transform="translate(652.83 266.68) rotate(-41.64)"><path d="M-2.21 0 H2.21 Q4.01 0 4.01 -1.8 V-31.49 L3.41 -35.39 L2.45 -33.79 A2.45 2.24 0 0 1 -2.45 -33.79 L-3.41 -35.39 L-4.01 -31.49 V-1.8 Q-4.01 0 -2.21 0Z" fill="#3873a9"/><path d="M-4.31 -18.25 L-3.01 -17.25 L-4.31 -16.25Z M4.31 -18.25 L3.01 -17.25 L4.31 -16.25Z" fill="#fff"/></g><g transform="translate(690.47 266.68) rotate(41.64)"><path d="M-2.21 0 H2.21 Q4.01 0 4.01 -1.8 V-31.49 L3.41 -35.39 L2.45 -33.79 A2.45 2.24 0 0 1 -2.45 -33.79 L-3.41 -35.39 L-4.01 -31.49 V-1.8 Q-4.01 0 -2.21 0Z" fill="#3873a9"/><path d="M-4.31 -18.25 L-3.01 -17.25 L-4.31 -16.25Z M4.31 -18.25 L3.01 -17.25 L4.31 -16.25Z" fill="#fff"/></g></g>
<path d="M687 290.3 H695.5 Q700.3 290.3 700.3 294.2 Q700.3 296.6 698 297 Q695.2 297.6 695.2 300 Q695.2 302.4 697.5 302.9 Q699.4 303.4 699.4 304.8 Q699.4 306.2 697.5 306.7 Q695.2 307.2 695.2 309.6 Q695.2 312 698 312.6 Q700.3 313 700.3 315.3 Q700.3 319.2 695.5 319.2 H687 Q682.8 319.2 682.8 315 V294.5 Q682.8 290.3 687 290.3Z" fill="#5fa64e"/>
<text x="667" y="333" font-family="'Liberation Serif', serif" font-size="14.5" text-anchor="start" fill="#111">Enzyme</text>
<text x="6.4" y="348.6" font-family="'Liberation Serif', serif" font-size="14" font-weight="bold" text-anchor="start" fill="#111">C</text>
<rect x="81.25" y="544.24" width="14.5" height="9.46" fill="#1f3d68"/>
<rect x="81.25" y="553.7" width="14.5" height="9.46" fill="#dd89a1"/>
<rect x="129.93" y="544.24" width="14.5" height="9.46" fill="#1f3d68"/>
<rect x="129.93" y="553.7" width="14.5" height="9.46" fill="#dd89a1"/>
<rect x="162.38" y="544.24" width="14.5" height="9.46" fill="#d9534f"/>
<rect x="162.38" y="553.7" width="14.5" height="9.46" fill="#dd89a1"/>
<rect x="211.06" y="544.24" width="14.5" height="9.46" fill="#eb9a78"/>
<rect x="211.06" y="553.7" width="14.5" height="9.46" fill="#71c3d3"/>
<rect x="227.28" y="544.24" width="14.5" height="9.46" fill="#1f3d68"/>
<rect x="227.28" y="553.7" width="14.5" height="9.46" fill="#dd89a1"/>
<rect x="259.74" y="544.24" width="14.5" height="9.46" fill="#94cdb9"/>
<rect x="259.74" y="534.78" width="14.5" height="9.46" fill="#eb9a78"/>
<rect x="259.74" y="553.7" width="14.5" height="18.92" fill="#dd89a1"/>
<rect x="275.96" y="534.78" width="14.5" height="18.92" fill="#94cdb9"/>
<rect x="275.96" y="515.86" width="14.5" height="18.92" fill="#eb9a78"/>
<rect x="275.96" y="553.7" width="14.5" height="9.46" fill="#2597b3"/>
<rect x="275.96" y="563.16" width="14.5" height="28.38" fill="#dd89a1"/>
<rect x="308.41" y="544.24" width="14.5" height="9.46" fill="#94cdb9"/>
<rect x="308.41" y="553.7" width="14.5" height="9.46" fill="#6ea488"/>
<rect x="324.64" y="544.24" width="14.5" height="9.46" fill="#94cdb9"/>
<rect x="324.64" y="553.7" width="14.5" height="9.46" fill="#dd89a1"/>
<rect x="340.87" y="544.24" width="14.5" height="9.46" fill="#d9534f"/>
<rect x="340.87" y="534.78" width="14.5" height="9.46" fill="#94cdb9"/>
<rect x="340.87" y="553.7" width="14.5" height="18.92" fill="#dd89a1"/>
<rect x="357.09" y="534.78" width="14.5" height="18.92" fill="#94cdb9"/>
<rect x="357.09" y="515.86" width="14.5" height="18.92" fill="#1f3d68"/>
<rect x="357.09" y="553.7" width="14.5" height="18.92" fill="#2597b3"/>
<rect x="357.09" y="572.62" width="14.5" height="28.38" fill="#dd89a1"/>
<rect x="373.32" y="534.78" width="14.5" height="18.92" fill="#94cdb9"/>
<rect x="373.32" y="525.32" width="14.5" height="9.46" fill="#eb9a78"/>
<rect x="373.32" y="553.7" width="14.5" height="28.38" fill="#dd89a1"/>
<rect x="389.54" y="544.24" width="14.5" height="9.46" fill="#94cdb9"/>
<rect x="389.54" y="553.7" width="14.5" height="9.46" fill="#2597b3"/>
<rect x="389.54" y="563.16" width="14.5" height="9.46" fill="#dd89a1"/>
<rect x="405.77" y="544.24" width="14.5" height="9.46" fill="#d9534f"/>
<rect x="405.77" y="525.32" width="14.5" height="18.92" fill="#94cdb9"/>
<rect x="405.77" y="506.4" width="14.5" height="18.92" fill="#eb9a78"/>
<rect x="405.77" y="553.7" width="14.5" height="18.92" fill="#2597b3"/>
<rect x="405.77" y="572.62" width="14.5" height="9.46" fill="#71c3d3"/>
<rect x="405.77" y="582.08" width="14.5" height="18.92" fill="#dd89a1"/>
<rect x="422" y="544.24" width="14.5" height="9.46" fill="#94cdb9"/>
<rect x="422" y="553.7" width="14.5" height="9.46" fill="#dd89a1"/>
<rect x="438.22" y="544.24" width="14.5" height="9.46" fill="#94cdb9"/>
<rect x="438.22" y="534.78" width="14.5" height="9.46" fill="#1f3d68"/>
<rect x="438.22" y="553.7" width="14.5" height="18.92" fill="#2597b3"/>
<rect x="438.22" y="572.62" width="14.5" height="9.46" fill="#71c3d3"/>
<rect x="438.22" y="582.08" width="14.5" height="9.46" fill="#dd89a1"/>
<rect x="454.45" y="515.86" width="14.5" height="37.84" fill="#d9534f"/>
<rect x="454.45" y="506.4" width="14.5" height="9.46" fill="#1f3d68"/>
<rect x="454.45" y="553.7" width="14.5" height="9.46" fill="#efa866"/>
<rect x="454.45" y="563.16" width="14.5" height="37.84" fill="#dd89a1"/>
<rect x="470.67" y="544.24" width="14.5" height="9.46" fill="#d9534f"/>
<rect x="470.67" y="534.78" width="14.5" height="9.46" fill="#1f3d68"/>
<rect x="470.67" y="553.7" width="14.5" height="18.92" fill="#dd89a1"/>
<rect x="486.9" y="534.78" width="14.5" height="18.92" fill="#d9534f"/>
<rect x="486.9" y="525.32" width="14.5" height="9.46" fill="#eb9a78"/>
<rect x="486.9" y="553.7" width="14.5" height="18.92" fill="#2597b3"/>
<rect x="486.9" y="572.62" width="14.5" height="9.46" fill="#6ea488"/>
<rect x="486.9" y="582.08" width="14.5" height="18.92" fill="#dd89a1"/>
<rect x="503.13" y="544.24" width="14.5" height="9.46" fill="#d9534f"/>
<rect x="503.13" y="525.32" width="14.5" height="18.92" fill="#94cdb9"/>
<rect x="503.13" y="553.7" width="14.5" height="28.38" fill="#dd89a1"/>
<rect x="519.35" y="525.32" width="14.5" height="28.38" fill="#94cdb9"/>
<rect x="519.35" y="553.7" width="14.5" height="9.46" fill="#2597b3"/>
<rect x="519.35" y="563.16" width="14.5" height="9.46" fill="#6ea488"/>
<rect x="519.35" y="572.62" width="14.5" height="18.92" fill="#dd89a1"/>
<rect x="535.58" y="525.32" width="14.5" height="28.38" fill="#d9534f"/>
<rect x="535.58" y="506.4" width="14.5" height="18.92" fill="#94cdb9"/>
<rect x="535.58" y="496.94" width="14.5" height="9.46" fill="#eb9a78"/>
<rect x="535.58" y="487.48" width="14.5" height="9.46" fill="#1f3d68"/>
<rect x="535.58" y="553.7" width="14.5" height="18.92" fill="#2597b3"/>
<rect x="535.58" y="572.62" width="14.5" height="9.46" fill="#efa866"/>
<rect x="535.58" y="582.08" width="14.5" height="56.76" fill="#dd89a1"/>
<rect x="551.8" y="515.86" width="14.5" height="37.84" fill="#d9534f"/>
<rect x="551.8" y="487.48" width="14.5" height="28.38" fill="#94cdb9"/>
<rect x="551.8" y="478.02" width="14.5" height="9.46" fill="#eb9a78"/>
<rect x="551.8" y="553.7" width="14.5" height="9.46" fill="#71c3d3"/>
<rect x="551.8" y="563.16" width="14.5" height="66.22" fill="#dd89a1"/>
<rect x="568.03" y="515.86" width="14.5" height="37.84" fill="#d9534f"/>
<rect x="568.03" y="487.48" width="14.5" height="28.38" fill="#94cdb9"/>
<rect x="568.03" y="478.02" width="14.5" height="9.46" fill="#eb9a78"/>
<rect x="568.03" y="553.7" width="14.5" height="75.68" fill="#dd89a1"/>
<rect x="584.26" y="506.4" width="14.5" height="47.3" fill="#d9534f"/>
<rect x="584.26" y="468.56" width="14.5" height="37.84" fill="#94cdb9"/>
<rect x="584.26" y="553.7" width="14.5" height="9.46" fill="#6ea488"/>
<rect x="584.26" y="563.16" width="14.5" height="9.46" fill="#efa866"/>
<rect x="584.26" y="572.62" width="14.5" height="66.22" fill="#dd89a1"/>
<rect x="600.48" y="496.94" width="14.5" height="56.76" fill="#d9534f"/>
<rect x="600.48" y="430.72" width="14.5" height="66.22" fill="#94cdb9"/>
<rect x="600.48" y="421.26" width="14.5" height="9.46" fill="#1f3d68"/>
<rect x="600.48" y="553.7" width="14.5" height="9.46" fill="#2597b3"/>
<rect x="600.48" y="563.16" width="14.5" height="9.46" fill="#71c3d3"/>
<rect x="600.48" y="572.62" width="14.5" height="113.52" fill="#dd89a1"/>
<rect x="616.71" y="534.78" width="14.5" height="18.92" fill="#d9534f"/>
<rect x="616.71" y="449.64" width="14.5" height="85.14" fill="#94cdb9"/>
<rect x="616.71" y="440.18" width="14.5" height="9.46" fill="#1f3d68"/>
<rect x="616.71" y="553.7" width="14.5" height="9.46" fill="#2597b3"/>
<rect x="616.71" y="563.16" width="14.5" height="28.38" fill="#6ea488"/>
<rect x="616.71" y="591.54" width="14.5" height="18.92" fill="#71c3d3"/>
<rect x="616.71" y="610.46" width="14.5" height="66.22" fill="#dd89a1"/>
<rect x="632.93" y="515.86" width="14.5" height="37.84" fill="#d9534f"/>
<rect x="632.93" y="430.72" width="14.5" height="85.14" fill="#94cdb9"/>
<rect x="632.93" y="402.34" width="14.5" height="28.38" fill="#eb9a78"/>
<rect x="632.93" y="553.7" width="14.5" height="37.84" fill="#6ea488"/>
<rect x="632.93" y="591.54" width="14.5" height="113.52" fill="#dd89a1"/>
<rect x="649.16" y="440.18" width="14.5" height="113.52" fill="#d9534f"/>
<rect x="649.16" y="383.42" width="14.5" height="56.76" fill="#94cdb9"/>
<rect x="649.16" y="373.96" width="14.5" height="9.46" fill="#eb9a78"/>
<rect x="649.16" y="553.7" width="14.5" height="18.92" fill="#2597b3"/>
<rect x="649.16" y="572.62" width="14.5" height="28.38" fill="#6ea488"/>
<rect x="649.16" y="601" width="14.5" height="9.46" fill="#efa866"/>
<rect x="649.16" y="610.46" width="14.5" height="9.46" fill="#71c3d3"/>
<rect x="649.16" y="619.92" width="14.5" height="122.98" fill="#dd89a1"/>
<rect x="665.39" y="525.32" width="14.5" height="28.38" fill="#d9534f"/>
<rect x="665.39" y="459.1" width="14.5" height="66.22" fill="#94cdb9"/>
<rect x="665.39" y="553.7" width="14.5" height="9.46" fill="#2597b3"/>
<rect x="665.39" y="563.16" width="14.5" height="28.38" fill="#efa866"/>
<rect x="665.39" y="591.54" width="14.5" height="56.76" fill="#dd89a1"/>
<line x1="51.2" x2="51.2" y1="356" y2="762.2" stroke="#2b2b2b" stroke-width="1.9"/>
<line x1="50.3" x2="710" y1="761.3" y2="761.3" stroke="#2b2b2b" stroke-width="1.6"/>
<line x1="51.2" x2="710" y1="553.7" y2="553.7" stroke="#2b2b2b" stroke-width="1.7"/>
<line x1="47.8" x2="51.2" y1="742.9" y2="742.9" stroke="#2b2b2b" stroke-width="1.3"/>
<text x="43.9" y="743.1" font-family="'Liberation Serif', serif" font-size="15.8" text-anchor="end" fill="#111" transform="rotate(-90 43.9 743.1)">20</text>
<line x1="47.8" x2="51.2" y1="695.6" y2="695.6" stroke="#2b2b2b" stroke-width="1.3"/>
<text x="43.9" y="695.8" font-family="'Liberation Serif', serif" font-size="15.8" text-anchor="end" fill="#111" transform="rotate(-90 43.9 695.8)">15</text>
<line x1="47.8" x2="51.2" y1="648.3" y2="648.3" stroke="#2b2b2b" stroke-width="1.3"/>
<text x="43.9" y="648.5" font-family="'Liberation Serif', serif" font-size="15.8" text-anchor="end" fill="#111" transform="rotate(-90 43.9 648.5)">10</text>
<line x1="47.8" x2="51.2" y1="601" y2="601" stroke="#2b2b2b" stroke-width="1.3"/>
<text x="43.9" y="601.2" font-family="'Liberation Serif', serif" font-size="15.8" text-anchor="end" fill="#111" transform="rotate(-90 43.9 601.2)">5</text>
<line x1="47.8" x2="51.2" y1="553.7" y2="553.7" stroke="#2b2b2b" stroke-width="1.3"/>
<text x="43.9" y="553.9" font-family="'Liberation Serif', serif" font-size="15.8" text-anchor="end" fill="#111" transform="rotate(-90 43.9 553.9)">0</text>
<line x1="47.8" x2="51.2" y1="506.4" y2="506.4" stroke="#2b2b2b" stroke-width="1.3"/>
<text x="43.9" y="506.6" font-family="'Liberation Serif', serif" font-size="15.8" text-anchor="end" fill="#111" transform="rotate(-90 43.9 506.6)">5</text>
<line x1="47.8" x2="51.2" y1="459.1" y2="459.1" stroke="#2b2b2b" stroke-width="1.3"/>
<text x="43.9" y="459.3" font-family="'Liberation Serif', serif" font-size="15.8" text-anchor="end" fill="#111" transform="rotate(-90 43.9 459.3)">10</text>
<line x1="47.8" x2="51.2" y1="411.8" y2="411.8" stroke="#2b2b2b" stroke-width="1.3"/>
<text x="43.9" y="412" font-family="'Liberation Serif', serif" font-size="15.8" text-anchor="end" fill="#111" transform="rotate(-90 43.9 412)">15</text>
<line x1="47.8" x2="51.2" y1="364.5" y2="364.5" stroke="#2b2b2b" stroke-width="1.3"/>
<text x="43.9" y="364.7" font-family="'Liberation Serif', serif" font-size="15.8" text-anchor="end" fill="#111" transform="rotate(-90 43.9 364.7)">20</text>
<line x1="88.5" x2="88.5" y1="761.3" y2="764.8" stroke="#2b2b2b" stroke-width="1.3"/>
<text transform="translate(93.8 767.4) rotate(-90) scale(0.915 1)" font-family="'Liberation Serif', serif" font-size="16.3" text-anchor="end" fill="#111">1986</text>
<line x1="104.73" x2="104.73" y1="761.3" y2="764.8" stroke="#2b2b2b" stroke-width="1.3"/>
<text transform="translate(110.03 767.4) rotate(-90) scale(0.915 1)" font-family="'Liberation Serif', serif" font-size="16.3" text-anchor="end" fill="#111">1987</text>
<line x1="120.95" x2="120.95" y1="761.3" y2="764.8" stroke="#2b2b2b" stroke-width="1.3"/>
<text transform="translate(126.25 767.4) rotate(-90) scale(0.915 1)" font-family="'Liberation Serif', serif" font-size="16.3" text-anchor="end" fill="#111">1988</text>
<line x1="137.18" x2="137.18" y1="761.3" y2="764.8" stroke="#2b2b2b" stroke-width="1.3"/>
<text transform="translate(142.48 767.4) rotate(-90) scale(0.915 1)" font-family="'Liberation Serif', serif" font-size="16.3" text-anchor="end" fill="#111">1989</text>
<line x1="153.4" x2="153.4" y1="761.3" y2="764.8" stroke="#2b2b2b" stroke-width="1.3"/>
<text transform="translate(158.7 767.4) rotate(-90) scale(0.915 1)" font-family="'Liberation Serif', serif" font-size="16.3" text-anchor="end" fill="#111">1990</text>
<line x1="169.63" x2="169.63" y1="761.3" y2="764.8" stroke="#2b2b2b" stroke-width="1.3"/>
<text transform="translate(174.93 767.4) rotate(-90) scale(0.915 1)" font-family="'Liberation Serif', serif" font-size="16.3" text-anchor="end" fill="#111">1991</text>
<line x1="185.86" x2="185.86" y1="761.3" y2="764.8" stroke="#2b2b2b" stroke-width="1.3"/>
<text transform="translate(191.16 767.4) rotate(-90) scale(0.915 1)" font-family="'Liberation Serif', serif" font-size="16.3" text-anchor="end" fill="#111">1992</text>
<line x1="202.08" x2="202.08" y1="761.3" y2="764.8" stroke="#2b2b2b" stroke-width="1.3"/>
<text transform="translate(207.38 767.4) rotate(-90) scale(0.915 1)" font-family="'Liberation Serif', serif" font-size="16.3" text-anchor="end" fill="#111">1993</text>
<line x1="218.31" x2="218.31" y1="761.3" y2="764.8" stroke="#2b2b2b" stroke-width="1.3"/>
<text transform="translate(223.61 767.4) rotate(-90) scale(0.915 1)" font-family="'Liberation Serif', serif" font-size="16.3" text-anchor="end" fill="#111">1994</text>
<line x1="234.53" x2="234.53" y1="761.3" y2="764.8" stroke="#2b2b2b" stroke-width="1.3"/>
<text transform="translate(239.83 767.4) rotate(-90) scale(0.915 1)" font-family="'Liberation Serif', serif" font-size="16.3" text-anchor="end" fill="#111">1995</text>
<line x1="250.76" x2="250.76" y1="761.3" y2="764.8" stroke="#2b2b2b" stroke-width="1.3"/>
<text transform="translate(256.06 767.4) rotate(-90) scale(0.915 1)" font-family="'Liberation Serif', serif" font-size="16.3" text-anchor="end" fill="#111">1996</text>
<line x1="266.99" x2="266.99" y1="761.3" y2="764.8" stroke="#2b2b2b" stroke-width="1.3"/>
<text transform="translate(272.29 767.4) rotate(-90) scale(0.915 1)" font-family="'Liberation Serif', serif" font-size="16.3" text-anchor="end" fill="#111">1997</text>
<line x1="283.21" x2="283.21" y1="761.3" y2="764.8" stroke="#2b2b2b" stroke-width="1.3"/>
<text transform="translate(288.51 767.4) rotate(-90) scale(0.915 1)" font-family="'Liberation Serif', serif" font-size="16.3" text-anchor="end" fill="#111">1998</text>
<line x1="299.44" x2="299.44" y1="761.3" y2="764.8" stroke="#2b2b2b" stroke-width="1.3"/>
<text transform="translate(304.74 767.4) rotate(-90) scale(0.915 1)" font-family="'Liberation Serif', serif" font-size="16.3" text-anchor="end" fill="#111">1999</text>
<line x1="315.66" x2="315.66" y1="761.3" y2="764.8" stroke="#2b2b2b" stroke-width="1.3"/>
<text transform="translate(320.96 767.4) rotate(-90) scale(0.915 1)" font-family="'Liberation Serif', serif" font-size="16.3" text-anchor="end" fill="#111">2000</text>
<line x1="331.89" x2="331.89" y1="761.3" y2="764.8" stroke="#2b2b2b" stroke-width="1.3"/>
<text transform="translate(337.19 767.4) rotate(-90) scale(0.915 1)" font-family="'Liberation Serif', serif" font-size="16.3" text-anchor="end" fill="#111">2001</text>
<line x1="348.12" x2="348.12" y1="761.3" y2="764.8" stroke="#2b2b2b" stroke-width="1.3"/>
<text transform="translate(353.42 767.4) rotate(-90) scale(0.915 1)" font-family="'Liberation Serif', serif" font-size="16.3" text-anchor="end" fill="#111">2002</text>
<line x1="364.34" x2="364.34" y1="761.3" y2="764.8" stroke="#2b2b2b" stroke-width="1.3"/>
<text transform="translate(369.64 767.4) rotate(-90) scale(0.915 1)" font-family="'Liberation Serif', serif" font-size="16.3" text-anchor="end" fill="#111">2003</text>
<line x1="380.57" x2="380.57" y1="761.3" y2="764.8" stroke="#2b2b2b" stroke-width="1.3"/>
<text transform="translate(385.87 767.4) rotate(-90) scale(0.915 1)" font-family="'Liberation Serif', serif" font-size="16.3" text-anchor="end" fill="#111">2004</text>
<line x1="396.79" x2="396.79" y1="761.3" y2="764.8" stroke="#2b2b2b" stroke-width="1.3"/>
<text transform="translate(402.09 767.4) rotate(-90) scale(0.915 1)" font-family="'Liberation Serif', serif" font-size="16.3" text-anchor="end" fill="#111">2005</text>
<line x1="413.02" x2="413.02" y1="761.3" y2="764.8" stroke="#2b2b2b" stroke-width="1.3"/>
<text transform="translate(418.32 767.4) rotate(-90) scale(0.915 1)" font-family="'Liberation Serif', serif" font-size="16.3" text-anchor="end" fill="#111">2006</text>
<line x1="429.25" x2="429.25" y1="761.3" y2="764.8" stroke="#2b2b2b" stroke-width="1.3"/>
<text transform="translate(434.55 767.4) rotate(-90) scale(0.915 1)" font-family="'Liberation Serif', serif" font-size="16.3" text-anchor="end" fill="#111">2007</text>
<line x1="445.47" x2="445.47" y1="761.3" y2="764.8" stroke="#2b2b2b" stroke-width="1.3"/>
<text transform="translate(450.77 767.4) rotate(-90) scale(0.915 1)" font-family="'Liberation Serif', serif" font-size="16.3" text-anchor="end" fill="#111">2008</text>
<line x1="461.7" x2="461.7" y1="761.3" y2="764.8" stroke="#2b2b2b" stroke-width="1.3"/>
<text transform="translate(467 767.4) rotate(-90) scale(0.915 1)" font-family="'Liberation Serif', serif" font-size="16.3" text-anchor="end" fill="#111">2009</text>
<line x1="477.92" x2="477.92" y1="761.3" y2="764.8" stroke="#2b2b2b" stroke-width="1.3"/>
<text transform="translate(483.22 767.4) rotate(-90) scale(0.915 1)" font-family="'Liberation Serif', serif" font-size="16.3" text-anchor="end" fill="#111">2010</text>
<line x1="494.15" x2="494.15" y1="761.3" y2="764.8" stroke="#2b2b2b" stroke-width="1.3"/>
<text transform="translate(499.45 767.4) rotate(-90) scale(0.915 1)" font-family="'Liberation Serif', serif" font-size="16.3" text-anchor="end" fill="#111">2011</text>
<line x1="510.38" x2="510.38" y1="761.3" y2="764.8" stroke="#2b2b2b" stroke-width="1.3"/>
<text transform="translate(515.68 767.4) rotate(-90) scale(0.915 1)" font-family="'Liberation Serif', serif" font-size="16.3" text-anchor="end" fill="#111">2012</text>
<line x1="526.6" x2="526.6" y1="761.3" y2="764.8" stroke="#2b2b2b" stroke-width="1.3"/>
<text transform="translate(531.9 767.4) rotate(-90) scale(0.915 1)" font-family="'Liberation Serif', serif" font-size="16.3" text-anchor="end" fill="#111">2013</text>
<line x1="542.83" x2="542.83" y1="761.3" y2="764.8" stroke="#2b2b2b" stroke-width="1.3"/>
<text transform="translate(548.13 767.4) rotate(-90) scale(0.915 1)" font-family="'Liberation Serif', serif" font-size="16.3" text-anchor="end" fill="#111">2014</text>
<line x1="559.05" x2="559.05" y1="761.3" y2="764.8" stroke="#2b2b2b" stroke-width="1.3"/>
<text transform="translate(564.35 767.4) rotate(-90) scale(0.915 1)" font-family="'Liberation Serif', serif" font-size="16.3" text-anchor="end" fill="#111">2015</text>
<line x1="575.28" x2="575.28" y1="761.3" y2="764.8" stroke="#2b2b2b" stroke-width="1.3"/>
<text transform="translate(580.58 767.4) rotate(-90) scale(0.915 1)" font-family="'Liberation Serif', serif" font-size="16.3" text-anchor="end" fill="#111">2016</text>
<line x1="591.51" x2="591.51" y1="761.3" y2="764.8" stroke="#2b2b2b" stroke-width="1.3"/>
<text transform="translate(596.81 767.4) rotate(-90) scale(0.915 1)" font-family="'Liberation Serif', serif" font-size="16.3" text-anchor="end" fill="#111">2017</text>
<line x1="607.73" x2="607.73" y1="761.3" y2="764.8" stroke="#2b2b2b" stroke-width="1.3"/>
<text transform="translate(613.03 767.4) rotate(-90) scale(0.915 1)" font-family="'Liberation Serif', serif" font-size="16.3" text-anchor="end" fill="#111">2018</text>
<line x1="623.96" x2="623.96" y1="761.3" y2="764.8" stroke="#2b2b2b" stroke-width="1.3"/>
<text transform="translate(629.26 767.4) rotate(-90) scale(0.915 1)" font-family="'Liberation Serif', serif" font-size="16.3" text-anchor="end" fill="#111">2019</text>
<line x1="640.18" x2="640.18" y1="761.3" y2="764.8" stroke="#2b2b2b" stroke-width="1.3"/>
<text transform="translate(645.48 767.4) rotate(-90) scale(0.915 1)" font-family="'Liberation Serif', serif" font-size="16.3" text-anchor="end" fill="#111">2020</text>
<line x1="656.41" x2="656.41" y1="761.3" y2="764.8" stroke="#2b2b2b" stroke-width="1.3"/>
<text transform="translate(661.71 767.4) rotate(-90) scale(0.915 1)" font-family="'Liberation Serif', serif" font-size="16.3" text-anchor="end" fill="#111">2021</text>
<line x1="672.64" x2="672.64" y1="761.3" y2="764.8" stroke="#2b2b2b" stroke-width="1.3"/>
<text transform="translate(677.94 767.4) rotate(-90) scale(0.915 1)" font-family="'Liberation Serif', serif" font-size="16.3" text-anchor="end" fill="#111">2022</text>
<text x="24.8" y="558.7" font-family="'Liberation Serif', serif" font-size="16.45" font-weight="bold" text-anchor="middle" fill="#111" transform="rotate(-90 24.8 558.7)">Antibody Count</text>
<text x="117.1" y="387.4" font-family="'Liberation Serif', serif" font-size="15.3" font-weight="bold" text-anchor="start" fill="#111">Format</text>
<rect x="115.2" y="397.6" width="19.2" height="18.9" fill="#d9534f"/>
<text x="143.2" y="411.2" font-family="'Liberation Serif', serif" font-size="15.25" text-anchor="start" fill="#111">Human</text>
<rect x="115.2" y="417.9" width="19.2" height="18.9" fill="#94cdb9"/>
<text x="143.2" y="431.5" font-family="'Liberation Serif', serif" font-size="15.25" text-anchor="start" fill="#111">Humanized</text>
<rect x="115.2" y="438.2" width="19.2" height="18.9" fill="#eb9a78"/>
<text x="143.2" y="451.8" font-family="'Liberation Serif', serif" font-size="15.25" text-anchor="start" fill="#111">Chimeric</text>
<rect x="115.2" y="458.5" width="19.2" height="18.9" fill="#1f3d68"/>
<text x="143.2" y="472.1" font-family="'Liberation Serif', serif" font-size="15.25" text-anchor="start" fill="#111">Rodent</text>
<rect x="117.8" y="602.3" width="18.9" height="18.9" fill="#dd89a1"/>
<text x="145.3" y="615.9" font-family="'Liberation Serif', serif" font-size="15.25" text-anchor="start" fill="#111">Canonical</text>
<rect x="117.8" y="622.65" width="18.9" height="18.9" fill="#71c3d3"/>
<text x="145.3" y="636.25" font-family="'Liberation Serif', serif" font-size="15.25" text-anchor="start" fill="#111">Fragment</text>
<rect x="117.8" y="643" width="18.9" height="18.9" fill="#efa866"/>
<text x="145.3" y="656.6" font-family="'Liberation Serif', serif" font-size="15.25" text-anchor="start" fill="#111">Bispecific</text>
<rect x="117.8" y="663.35" width="18.9" height="18.9" fill="#6ea488"/>
<text x="145.3" y="676.95" font-family="'Liberation Serif', serif" font-size="15.25" text-anchor="start" fill="#111">ADC</text>
<rect x="117.8" y="683.7" width="18.9" height="18.9" fill="#2597b3"/>
<text x="145.3" y="697.3" font-family="'Liberation Serif', serif" font-size="15.25" text-anchor="start" fill="#111">Others</text>
</svg>
</body></html>
